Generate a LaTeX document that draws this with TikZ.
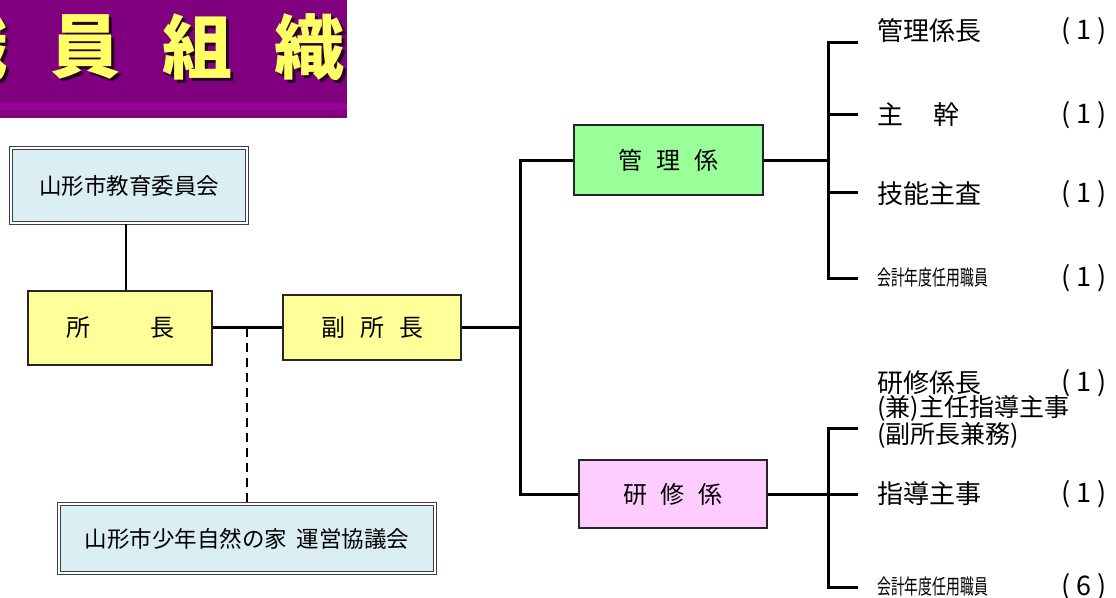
\documentclass[tikz,border=0pt]{standalone}
\usepackage{fontspec}
\setmainfont{Noto Sans CJK JP}
\newfontfamily\narrowjp{Noto Sans CJK JP}[FakeStretch=0.66]
\definecolor{title purple}{RGB}{128,0,128}
\definecolor{title yellow}{RGB}{255,255,102}
\definecolor{board blue}{RGB}{218,238,243}
\definecolor{head yellow}{RGB}{255,255,153}
\definecolor{kanri green}{RGB}{153,255,153}
\definecolor{kenshu pink}{RGB}{255,204,255}

\tikzset{
	unit/.style={draw=black!85, line width=2pt, inner sep=0pt, font=\fontsize{24}{24}\selectfont},
	council/.style={draw=black!75, double=white, double distance=1.5pt, line width=1.2pt,
		fill=board blue, inner sep=0pt, font=\fontsize{22.5}{22.5}\selectfont},
	link/.style={line width=3pt},
	post/.style={anchor=west, inner sep=0pt, font=\fontsize{26}{26}\selectfont},
	narrowpost/.style={anchor=west, inner sep=0pt, font=\narrowjp\fontsize{21}{21}\selectfont},
	count/.style={anchor=west, inner sep=0pt, font=\fontsize{27}{27}\selectfont},
	title char/.style={text=title yellow, font=\bfseries\fontsize{70}{70}\selectfont},
	title shadow/.style={text=black!70!title purple, font=\bfseries\fontsize{70}{70}\selectfont}
}

\begin{document}
\begin{tikzpicture}[x=1pt, y=-1pt]
			\useasboundingbox (0,0) rectangle (1116,597);
			% title band
			\begin{scope}
				\clip (0,0) rectangle (347,118);
				\fill[title purple] (0,0) rectangle (347,118);
				\fill[title purple!80!magenta] (0,103) rectangle (347,110);
				\foreach \ch [count=\i] in {職,員,組,織} {
					\node[title shadow] at ({-24+(\i-1)*112},50) {\ch};
					\node[title char] (title\i) at ({-27+(\i-1)*112},47) {\ch};
				}
			\end{scope}
			% left part
			\node[council, minimum width=236pt, minimum height=75pt] (kyoiku) at (129,185.5) {山形市教育委員会};
			\node[unit, fill=head yellow, minimum width=184pt, minimum height=74pt] (shocho) at (120,327.5) {所\hspace{60pt}長};
			\node[unit, fill=head yellow, minimum width=178pt, minimum height=65pt] (fuku) at (372,327.5) {副\hspace{15pt}所\hspace{15pt}長};
			\node[council, minimum width=376pt, minimum height=69pt] (unei) at (247,538.5) {山形市少年自然の家\hspace{10pt}運営協議会};
			\draw[line width=2pt] ([xshift=-3pt]kyoiku.south) -- ([xshift=-3pt]kyoiku.south |- shocho.north);
			\draw[link] (shocho.east) -- (fuku.west);
			\draw[line width=2pt, dash pattern=on 9pt off 6pt] (unei.north |- shocho.east) -- (unei.north);
			% two sections
			\node[unit, fill=kanri green, minimum width=189pt, minimum height=70pt] (kanri) at (668.5,160) {管\hspace{14pt}理\hspace{14pt}係};
			\node[unit, fill=kenshu pink, minimum width=188pt, minimum height=68pt] (kenshu) at (673,494) {研\hspace{14pt}修\hspace{14pt}係};
			\coordinate (trunk) at (520,327.5);
			\draw[link] (fuku.east) -- (trunk);
			\draw[link] (kanri.west) -| (trunk) |- (kenshu.west);
			% bracket for kanri
			\coordinate (kspine) at (828,160);
			\foreach \y [count=\i] in {42,114,192,278}
				\coordinate (kt\i) at (858,\y);
			\draw[link] (kanri.east) -- (kspine);
			\draw[link] (kt1) -- (kt1 -| kspine) -- (kt4 -| kspine) -- (kt4);
			\draw[link] (kt2 -| kspine) -- (kt2);
			\draw[link] (kt3 -| kspine) -- (kt3);
			% bracket for kenshu
			\coordinate (sspine) at (828,494);
			\coordinate (st1) at (858,428);
			\coordinate (st2) at (858,494);
			\coordinate (st3) at (858,587);
			\draw[link] (st1) -- (st1 -| sspine) -- (st3 -| sspine) -- (st3);
			\draw[link] (kenshu.east) -- (st2);
			% posts
			\node[post] (p1) at (877,31) {管理係長};
			\node[post] (p2) at (877,115) {主\hspace{30pt}幹};
			\node[post] (p3) at (877,194) {技能主査};
			\node[narrowpost] (p4) at (877,278) {会計年度任用職員};
			\node[post] (p5) at (877,383) {研修係長};
			\node[post, align=left, font=\fontsize{25}{24}\selectfont] (p6) at (877,422) {(兼)主任指導主事\\(副所長兼務)};
			\node[post] (p7) at (877,494) {指導主事};
			\node[narrowpost] (p8) at (877,587) {会計年度任用職員};
			% numbers
			\foreach \y/\n [count=\i] in {31/1,115/1,194/1,278/1,383/1,494/1,587/6}
				\node[count] (n\i) at (1061,\y) {(\hspace{6pt}\n\hspace{6pt})};
		\end{tikzpicture}
\end{document}
